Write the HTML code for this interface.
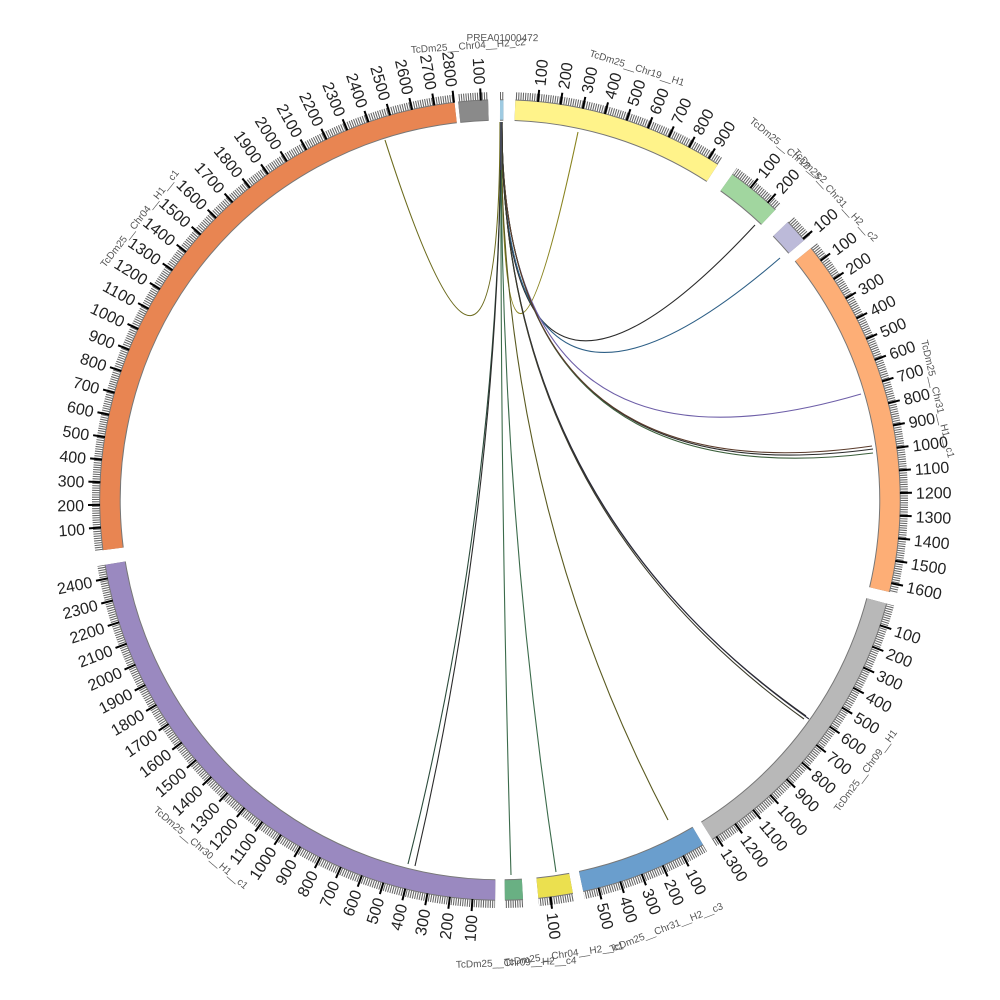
<!DOCTYPE html>
<html><head><meta charset="utf-8"><style>
html,body{margin:0;padding:0;background:#fff;width:1000px;height:1000px;overflow:hidden;}
svg{display:block;font-family:"Liberation Sans",sans-serif;}
.t path{stroke:#000;stroke-width:2;fill:none}
.t text{font-size:16px;fill:#222}
.n text{font-size:10px;fill:#555}
.lk path{fill:none;stroke-width:1.1}
</style></head><body>
<svg width="1000" height="1000" viewBox="0 0 1000 1000">
<defs>
<mask id="m">
<g fill="none" stroke="#fff" stroke-width="14">
<circle cx="500" cy="500" r="404" pathLength="360" stroke-dasharray="0.5 400" transform="rotate(-90 500 500)"/>
<circle cx="500" cy="500" r="404" pathLength="360" stroke-dasharray="30.8 400" transform="rotate(-87.8 500 500)"/>
<circle cx="500" cy="500" r="404" pathLength="360" stroke-dasharray="8 400" transform="rotate(-54.5 500 500)"/>
<circle cx="500" cy="500" r="404" pathLength="360" stroke-dasharray="3.5 400" transform="rotate(-44 500 500)"/>
<circle cx="500" cy="500" r="404" pathLength="360" stroke-dasharray="52.3 400" transform="rotate(-39 500 500)"/>
<circle cx="500" cy="500" r="404" pathLength="360" stroke-dasharray="43 400" transform="rotate(15 500 500)"/>
<circle cx="500" cy="500" r="404" pathLength="360" stroke-dasharray="18.5 400" transform="rotate(59.5 500 500)"/>
<circle cx="500" cy="500" r="404" pathLength="360" stroke-dasharray="5 400" transform="rotate(79.5 500 500)"/>
<circle cx="500" cy="500" r="404" pathLength="360" stroke-dasharray="2.6 400" transform="rotate(86.7 500 500)"/>
<circle cx="500" cy="500" r="404" pathLength="360" stroke-dasharray="80 400" transform="rotate(90.7 500 500)"/>
<circle cx="500" cy="500" r="404" pathLength="360" stroke-dasharray="90.7 400" transform="rotate(172.8 500 500)"/>
<circle cx="500" cy="500" r="404" pathLength="360" stroke-dasharray="4.3 400" transform="rotate(264 500 500)"/>
</g>
</mask>
</defs>

<circle cx="500" cy="500" r="404" fill="none" stroke="#666" stroke-width="8" pathLength="3600" stroke-dasharray="1.5 1.75" mask="url(#m)"/>

<g fill="none" stroke="#777" stroke-width="21.5">
<circle cx="500" cy="500" r="390" pathLength="360" stroke-dasharray="0.5 400" transform="rotate(-90 500 500)"/>
<circle cx="500" cy="500" r="390" pathLength="360" stroke-dasharray="30.8 400" transform="rotate(-87.8 500 500)"/>
<circle cx="500" cy="500" r="390" pathLength="360" stroke-dasharray="8 400" transform="rotate(-54.5 500 500)"/>
<circle cx="500" cy="500" r="390" pathLength="360" stroke-dasharray="3.5 400" transform="rotate(-44 500 500)"/>
<circle cx="500" cy="500" r="390" pathLength="360" stroke-dasharray="52.3 400" transform="rotate(-39 500 500)"/>
<circle cx="500" cy="500" r="390" pathLength="360" stroke-dasharray="43 400" transform="rotate(15 500 500)"/>
<circle cx="500" cy="500" r="390" pathLength="360" stroke-dasharray="18.5 400" transform="rotate(59.5 500 500)"/>
<circle cx="500" cy="500" r="390" pathLength="360" stroke-dasharray="5 400" transform="rotate(79.5 500 500)"/>
<circle cx="500" cy="500" r="390" pathLength="360" stroke-dasharray="2.6 400" transform="rotate(86.7 500 500)"/>
<circle cx="500" cy="500" r="390" pathLength="360" stroke-dasharray="80 400" transform="rotate(90.7 500 500)"/>
<circle cx="500" cy="500" r="390" pathLength="360" stroke-dasharray="90.7 400" transform="rotate(172.8 500 500)"/>
<circle cx="500" cy="500" r="390" pathLength="360" stroke-dasharray="4.3 400" transform="rotate(264 500 500)"/>
</g>
<g fill="none" stroke-width="19.5">
<circle stroke="#9ecae1" cx="500" cy="500" r="390" pathLength="360" stroke-dasharray="0.5 400" transform="rotate(-90 500 500)"/>
<circle stroke="#fff38a" cx="500" cy="500" r="390" pathLength="360" stroke-dasharray="30.8 400" transform="rotate(-87.8 500 500)"/>
<circle stroke="#a1d69f" cx="500" cy="500" r="390" pathLength="360" stroke-dasharray="8 400" transform="rotate(-54.5 500 500)"/>
<circle stroke="#bcbad9" cx="500" cy="500" r="390" pathLength="360" stroke-dasharray="3.5 400" transform="rotate(-44 500 500)"/>
<circle stroke="#fdae76" cx="500" cy="500" r="390" pathLength="360" stroke-dasharray="52.3 400" transform="rotate(-39 500 500)"/>
<circle stroke="#b8b8b8" cx="500" cy="500" r="390" pathLength="360" stroke-dasharray="43 400" transform="rotate(15 500 500)"/>
<circle stroke="#6a9ecd" cx="500" cy="500" r="390" pathLength="360" stroke-dasharray="18.5 400" transform="rotate(59.5 500 500)"/>
<circle stroke="#ebe04f" cx="500" cy="500" r="390" pathLength="360" stroke-dasharray="5 400" transform="rotate(79.5 500 500)"/>
<circle stroke="#69b083" cx="500" cy="500" r="390" pathLength="360" stroke-dasharray="2.6 400" transform="rotate(86.7 500 500)"/>
<circle stroke="#9a89c0" cx="500" cy="500" r="390" pathLength="360" stroke-dasharray="80 400" transform="rotate(90.7 500 500)"/>
<circle stroke="#e88552" cx="500" cy="500" r="390" pathLength="360" stroke-dasharray="90.7 400" transform="rotate(172.8 500 500)"/>
<circle stroke="#8a8a8a" cx="500" cy="500" r="390" pathLength="360" stroke-dasharray="4.3 400" transform="rotate(264 500 500)"/>
</g>

<g class="lk">
<path stroke="#6b6a1c" d="M500 122 Q500 500 385 140"/>
<path stroke="#8a8420" d="M502 122 Q500 500 578 132"/>
<path stroke="#2b2b2b" d="M502 122 Q500 500 755 225"/>
<path stroke="#2d5f86" d="M502 122 Q500 500 780 258"/>
<path stroke="#6e5fa8" stroke-width="1.6" d="M502 122 Q500 500 861 394"/>
<path stroke="#2b2b2b" d="M502 122 Q500 500 873 449"/>
<path stroke="#3b5f3b" d="M502 122 Q500 500 873 453"/>
<path stroke="#5a3b2b" d="M502 122 Q500 500 872 446"/>
<path stroke="#2b2b2b" d="M502 122 Q500 500 806 716"/>
<path stroke="#2b2b3b" d="M502 122 Q500 500 809 719"/>
<path stroke="#3b3b2b" d="M502 122 Q500 500 804 719"/>
<path stroke="#5a5a20" d="M501 122 Q500 500 668 820"/>
<path stroke="#3b6b4b" d="M501 122 Q500 500 556 872"/>
<path stroke="#3b6b4b" d="M501 122 Q500 500 511 875"/>
<path stroke="#2b4b3b" d="M501 122 Q500 500 408 864"/>
<path stroke="#2b2b2b" d="M501 122 Q500 500 415 866"/>
<path stroke="#4a4a7a" stroke-width="2.5" d="M501 122 L501 170"/>
</g>

<g class="t">
<g transform="rotate(-84.55 500 500)"><path d="M900 500h12"/><text x="916" y="506">100</text></g>
<g transform="rotate(-81.3 500 500)"><path d="M900 500h12"/><text x="916" y="506">200</text></g>
<g transform="rotate(-78.05 500 500)"><path d="M900 500h12"/><text x="916" y="506">300</text></g>
<g transform="rotate(-74.8 500 500)"><path d="M900 500h12"/><text x="916" y="506">400</text></g>
<g transform="rotate(-71.55 500 500)"><path d="M900 500h12"/><text x="916" y="506">500</text></g>
<g transform="rotate(-68.3 500 500)"><path d="M900 500h12"/><text x="916" y="506">600</text></g>
<g transform="rotate(-65.05 500 500)"><path d="M900 500h12"/><text x="916" y="506">700</text></g>
<g transform="rotate(-61.8 500 500)"><path d="M900 500h12"/><text x="916" y="506">800</text></g>
<g transform="rotate(-58.55 500 500)"><path d="M900 500h12"/><text x="916" y="506">900</text></g>
<g transform="rotate(-51.25 500 500)"><path d="M900 500h12"/><text x="916" y="506">100</text></g>
<g transform="rotate(-48 500 500)"><path d="M900 500h12"/><text x="916" y="506">200</text></g>
<g transform="rotate(-40.75 500 500)"><path d="M900 500h12"/><text x="916" y="506">100</text></g>
<g transform="rotate(-36.75 500 500)"><path d="M900 500h12"/><text x="916" y="506">100</text></g>
<g transform="rotate(-33.5 500 500)"><path d="M900 500h12"/><text x="916" y="506">200</text></g>
<g transform="rotate(-30.25 500 500)"><path d="M900 500h12"/><text x="916" y="506">300</text></g>
<g transform="rotate(-27 500 500)"><path d="M900 500h12"/><text x="916" y="506">400</text></g>
<g transform="rotate(-23.75 500 500)"><path d="M900 500h12"/><text x="916" y="506">500</text></g>
<g transform="rotate(-20.5 500 500)"><path d="M900 500h12"/><text x="916" y="506">600</text></g>
<g transform="rotate(-17.25 500 500)"><path d="M900 500h12"/><text x="916" y="506">700</text></g>
<g transform="rotate(-14 500 500)"><path d="M900 500h12"/><text x="916" y="506">800</text></g>
<g transform="rotate(-10.75 500 500)"><path d="M900 500h12"/><text x="916" y="506">900</text></g>
<g transform="rotate(-7.5 500 500)"><path d="M900 500h12"/><text x="916" y="506">1000</text></g>
<g transform="rotate(-4.25 500 500)"><path d="M900 500h12"/><text x="916" y="506">1100</text></g>
<g transform="rotate(-1 500 500)"><path d="M900 500h12"/><text x="916" y="506">1200</text></g>
<g transform="rotate(2.25 500 500)"><path d="M900 500h12"/><text x="916" y="506">1300</text></g>
<g transform="rotate(5.5 500 500)"><path d="M900 500h12"/><text x="916" y="506">1400</text></g>
<g transform="rotate(8.75 500 500)"><path d="M900 500h12"/><text x="916" y="506">1500</text></g>
<g transform="rotate(12 500 500)"><path d="M900 500h12"/><text x="916" y="506">1600</text></g>
<g transform="rotate(18.25 500 500)"><path d="M900 500h12"/><text x="916" y="506">100</text></g>
<g transform="rotate(21.5 500 500)"><path d="M900 500h12"/><text x="916" y="506">200</text></g>
<g transform="rotate(24.75 500 500)"><path d="M900 500h12"/><text x="916" y="506">300</text></g>
<g transform="rotate(28 500 500)"><path d="M900 500h12"/><text x="916" y="506">400</text></g>
<g transform="rotate(31.25 500 500)"><path d="M900 500h12"/><text x="916" y="506">500</text></g>
<g transform="rotate(34.5 500 500)"><path d="M900 500h12"/><text x="916" y="506">600</text></g>
<g transform="rotate(37.75 500 500)"><path d="M900 500h12"/><text x="916" y="506">700</text></g>
<g transform="rotate(41 500 500)"><path d="M900 500h12"/><text x="916" y="506">800</text></g>
<g transform="rotate(44.25 500 500)"><path d="M900 500h12"/><text x="916" y="506">900</text></g>
<g transform="rotate(47.5 500 500)"><path d="M900 500h12"/><text x="916" y="506">1000</text></g>
<g transform="rotate(50.75 500 500)"><path d="M900 500h12"/><text x="916" y="506">1100</text></g>
<g transform="rotate(54 500 500)"><path d="M900 500h12"/><text x="916" y="506">1200</text></g>
<g transform="rotate(57.25 500 500)"><path d="M900 500h12"/><text x="916" y="506">1300</text></g>
<g transform="rotate(62.75 500 500)"><path d="M900 500h12"/><text x="916" y="506">100</text></g>
<g transform="rotate(66 500 500)"><path d="M900 500h12"/><text x="916" y="506">200</text></g>
<g transform="rotate(69.25 500 500)"><path d="M900 500h12"/><text x="916" y="506">300</text></g>
<g transform="rotate(72.5 500 500)"><path d="M900 500h12"/><text x="916" y="506">400</text></g>
<g transform="rotate(75.75 500 500)"><path d="M900 500h12"/><text x="916" y="506">500</text></g>
<g transform="rotate(82.75 500 500)"><path d="M900 500h12"/><text x="916" y="506">100</text></g>

<g transform="rotate(-86.05 500 500)"><path d="M100 500h-12"/><text x="84" y="506" text-anchor="end">100</text></g>
<g transform="rotate(-82.8 500 500)"><path d="M100 500h-12"/><text x="84" y="506" text-anchor="end">200</text></g>
<g transform="rotate(-79.55 500 500)"><path d="M100 500h-12"/><text x="84" y="506" text-anchor="end">300</text></g>
<g transform="rotate(-76.3 500 500)"><path d="M100 500h-12"/><text x="84" y="506" text-anchor="end">400</text></g>
<g transform="rotate(-73.05 500 500)"><path d="M100 500h-12"/><text x="84" y="506" text-anchor="end">500</text></g>
<g transform="rotate(-69.8 500 500)"><path d="M100 500h-12"/><text x="84" y="506" text-anchor="end">600</text></g>
<g transform="rotate(-66.55 500 500)"><path d="M100 500h-12"/><text x="84" y="506" text-anchor="end">700</text></g>
<g transform="rotate(-63.3 500 500)"><path d="M100 500h-12"/><text x="84" y="506" text-anchor="end">800</text></g>
<g transform="rotate(-60.05 500 500)"><path d="M100 500h-12"/><text x="84" y="506" text-anchor="end">900</text></g>
<g transform="rotate(-56.8 500 500)"><path d="M100 500h-12"/><text x="84" y="506" text-anchor="end">1000</text></g>
<g transform="rotate(-53.55 500 500)"><path d="M100 500h-12"/><text x="84" y="506" text-anchor="end">1100</text></g>
<g transform="rotate(-50.3 500 500)"><path d="M100 500h-12"/><text x="84" y="506" text-anchor="end">1200</text></g>
<g transform="rotate(-47.05 500 500)"><path d="M100 500h-12"/><text x="84" y="506" text-anchor="end">1300</text></g>
<g transform="rotate(-43.8 500 500)"><path d="M100 500h-12"/><text x="84" y="506" text-anchor="end">1400</text></g>
<g transform="rotate(-40.55 500 500)"><path d="M100 500h-12"/><text x="84" y="506" text-anchor="end">1500</text></g>
<g transform="rotate(-37.3 500 500)"><path d="M100 500h-12"/><text x="84" y="506" text-anchor="end">1600</text></g>
<g transform="rotate(-34.05 500 500)"><path d="M100 500h-12"/><text x="84" y="506" text-anchor="end">1700</text></g>
<g transform="rotate(-30.8 500 500)"><path d="M100 500h-12"/><text x="84" y="506" text-anchor="end">1800</text></g>
<g transform="rotate(-27.55 500 500)"><path d="M100 500h-12"/><text x="84" y="506" text-anchor="end">1900</text></g>
<g transform="rotate(-24.3 500 500)"><path d="M100 500h-12"/><text x="84" y="506" text-anchor="end">2000</text></g>
<g transform="rotate(-21.05 500 500)"><path d="M100 500h-12"/><text x="84" y="506" text-anchor="end">2100</text></g>
<g transform="rotate(-17.8 500 500)"><path d="M100 500h-12"/><text x="84" y="506" text-anchor="end">2200</text></g>
<g transform="rotate(-14.55 500 500)"><path d="M100 500h-12"/><text x="84" y="506" text-anchor="end">2300</text></g>
<g transform="rotate(-11.3 500 500)"><path d="M100 500h-12"/><text x="84" y="506" text-anchor="end">2400</text></g>
<g transform="rotate(-3.95 500 500)"><path d="M100 500h-12"/><text x="84" y="506" text-anchor="end">100</text></g>
<g transform="rotate(-0.7 500 500)"><path d="M100 500h-12"/><text x="84" y="506" text-anchor="end">200</text></g>
<g transform="rotate(2.55 500 500)"><path d="M100 500h-12"/><text x="84" y="506" text-anchor="end">300</text></g>
<g transform="rotate(5.8 500 500)"><path d="M100 500h-12"/><text x="84" y="506" text-anchor="end">400</text></g>
<g transform="rotate(9.05 500 500)"><path d="M100 500h-12"/><text x="84" y="506" text-anchor="end">500</text></g>
<g transform="rotate(12.3 500 500)"><path d="M100 500h-12"/><text x="84" y="506" text-anchor="end">600</text></g>
<g transform="rotate(15.55 500 500)"><path d="M100 500h-12"/><text x="84" y="506" text-anchor="end">700</text></g>
<g transform="rotate(18.8 500 500)"><path d="M100 500h-12"/><text x="84" y="506" text-anchor="end">800</text></g>
<g transform="rotate(22.05 500 500)"><path d="M100 500h-12"/><text x="84" y="506" text-anchor="end">900</text></g>
<g transform="rotate(25.3 500 500)"><path d="M100 500h-12"/><text x="84" y="506" text-anchor="end">1000</text></g>
<g transform="rotate(28.55 500 500)"><path d="M100 500h-12"/><text x="84" y="506" text-anchor="end">1100</text></g>
<g transform="rotate(31.8 500 500)"><path d="M100 500h-12"/><text x="84" y="506" text-anchor="end">1200</text></g>
<g transform="rotate(35.05 500 500)"><path d="M100 500h-12"/><text x="84" y="506" text-anchor="end">1300</text></g>
<g transform="rotate(38.3 500 500)"><path d="M100 500h-12"/><text x="84" y="506" text-anchor="end">1400</text></g>
<g transform="rotate(41.55 500 500)"><path d="M100 500h-12"/><text x="84" y="506" text-anchor="end">1500</text></g>
<g transform="rotate(44.8 500 500)"><path d="M100 500h-12"/><text x="84" y="506" text-anchor="end">1600</text></g>
<g transform="rotate(48.05 500 500)"><path d="M100 500h-12"/><text x="84" y="506" text-anchor="end">1700</text></g>
<g transform="rotate(51.3 500 500)"><path d="M100 500h-12"/><text x="84" y="506" text-anchor="end">1800</text></g>
<g transform="rotate(54.55 500 500)"><path d="M100 500h-12"/><text x="84" y="506" text-anchor="end">1900</text></g>
<g transform="rotate(57.8 500 500)"><path d="M100 500h-12"/><text x="84" y="506" text-anchor="end">2000</text></g>
<g transform="rotate(61.05 500 500)"><path d="M100 500h-12"/><text x="84" y="506" text-anchor="end">2100</text></g>
<g transform="rotate(64.3 500 500)"><path d="M100 500h-12"/><text x="84" y="506" text-anchor="end">2200</text></g>
<g transform="rotate(67.55 500 500)"><path d="M100 500h-12"/><text x="84" y="506" text-anchor="end">2300</text></g>
<g transform="rotate(70.8 500 500)"><path d="M100 500h-12"/><text x="84" y="506" text-anchor="end">2400</text></g>
<g transform="rotate(74.05 500 500)"><path d="M100 500h-12"/><text x="84" y="506" text-anchor="end">2500</text></g>
<g transform="rotate(77.3 500 500)"><path d="M100 500h-12"/><text x="84" y="506" text-anchor="end">2600</text></g>
<g transform="rotate(80.55 500 500)"><path d="M100 500h-12"/><text x="84" y="506" text-anchor="end">2700</text></g>
<g transform="rotate(83.4 500 500)"><path d="M100 500h-12"/><text x="84" y="506" text-anchor="end">2800</text></g>
<g transform="rotate(87.25 500 500)"><path d="M100 500h-12"/><text x="84" y="506" text-anchor="end">100</text></g>
</g>

<g class="n">
<text transform="rotate(0.3 500 500)" x="500" y="41" text-anchor="middle">PREA01000472</text>
<text transform="rotate(-4 500 500)" x="500" y="48" text-anchor="middle">TcDm25__Chr04__H2_c2</text>
<text transform="rotate(17.6 500 500)" x="500" y="50" text-anchor="middle">TcDm25__Chr19__H1</text>
<text transform="rotate(39.5 500 500)" x="500" y="50" text-anchor="middle">TcDm25__Chr12__c2</text>
<text transform="rotate(47.75 500 500)" x="500" y="50" text-anchor="middle">TcDm25__Chr31__H2__c2</text>
<text transform="rotate(77 500 500)" x="500" y="54" text-anchor="middle">TcDm25__Chr31__H1__c1</text>
<text transform="rotate(-53.5 500 500)" x="500" y="958" text-anchor="middle">TcDm25__Chr09__H1</text>
<text transform="rotate(-21.25 500 500)" x="500" y="962" text-anchor="middle">TcDm25__Chr31__H2__c3</text>
<text transform="rotate(-8 500 500)" x="500" y="962" text-anchor="middle">TcDm25__Chr04__H2__c1</text>
<text transform="rotate(-2 500 500)" x="500" y="966" text-anchor="middle">TcDm25__Chr09__H2__c4</text>
<text transform="rotate(40.7 500 500)" x="500" y="962" text-anchor="middle">TcDm25__Chr30__H1__c1</text>
<text transform="rotate(-52 500 500)" x="500" y="46" text-anchor="middle">TcDm25__Chr04__H1__c1</text>
</g>
</svg>
</body></html>
